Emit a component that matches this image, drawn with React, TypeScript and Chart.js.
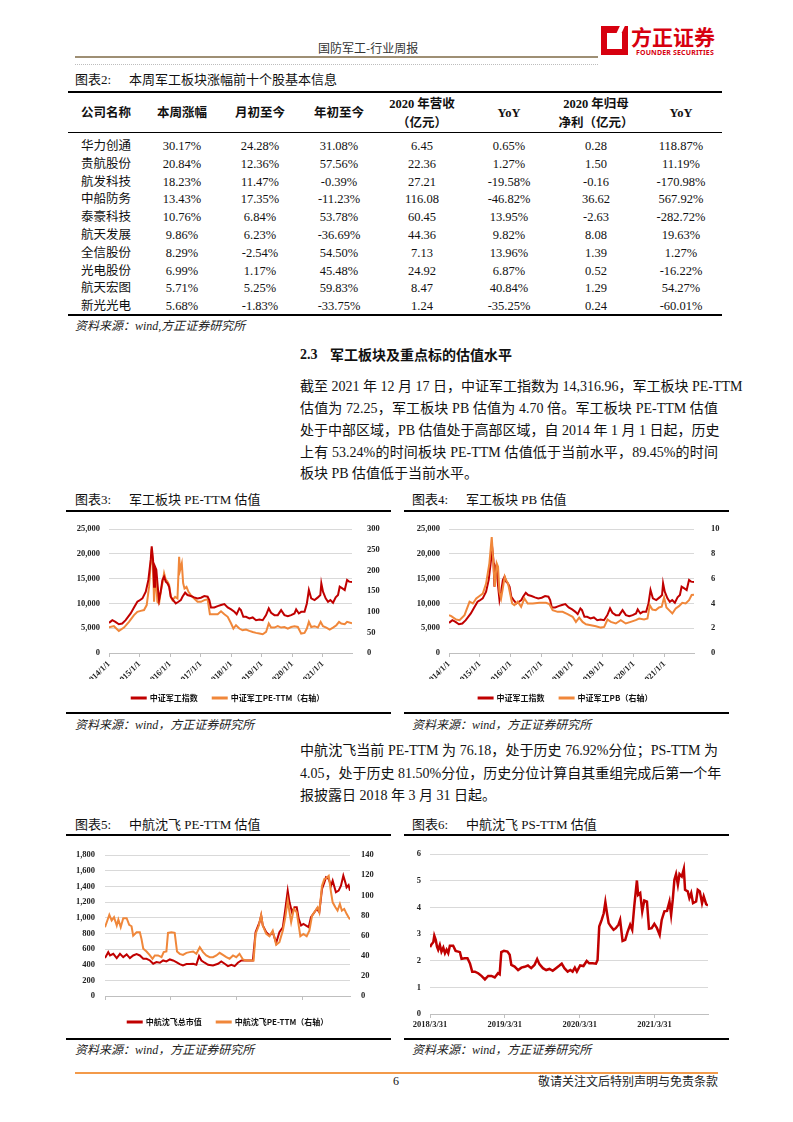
import React, { useEffect, useRef } from 'react';
import { Chart, registerables } from 'chart.js';
Chart.register(...registerables);

const RED = '#C00000';
const ORANGE = '#F0873A';
const GRID = '#D9D9D9';
const AXIS = '#BFBFBF';
const SERIF = "'Liberation Serif', 'Times New Roman', 'Noto Sans CJK SC', serif";
const SANS = "'Noto Sans CJK SC', 'Noto Sans', sans-serif";

// ---------- Table 2 data ----------
const tableHeaders = ['公司名称', '本周涨幅', '月初至今', '年初至今', '2020 年营收\n（亿元）', 'YoY', '2020 年归母\n净利（亿元）', 'YoY'];
const companies = ['华力创通', '贵航股份', '航发科技', '中船防务', '泰豪科技', '航天发展', '全信股份', '光电股份', '航天宏图', '新光光电'];
const weekChange = [30.17, 20.84, 18.23, 13.43, 10.76, 9.86, 8.29, 6.99, 5.71, 5.68];
const monthChange = [24.28, 12.36, 11.47, 17.35, 6.84, 6.23, -2.54, 1.17, 5.25, -1.83];
const ytdChange = [31.08, 57.56, -0.39, -11.23, 53.78, -36.69, 54.5, 45.48, 59.83, -33.75];
const revenue2020 = [6.45, 22.36, 27.21, 116.08, 60.45, 44.36, 7.13, 24.92, 8.47, 1.24];
const revenueYoY = [0.65, 1.27, -19.58, -46.82, 13.95, 9.82, 13.96, 6.87, 40.84, -35.25];
const netProfit2020 = [0.28, 1.5, -0.16, 36.62, -2.63, 8.08, 1.39, 0.52, 1.29, 0.24];
const profitYoY = [118.87, 11.19, -170.98, 567.92, -282.72, 19.63, 1.27, -16.22, 54.27, -60.01];

// ---------- Chart 3 / 4 : 中证军工指数 ----------
const indexDates = ['2014-01-01','2014-02-10','2014-03-19','2014-04-29','2014-06-08','2014-07-19','2014-09-17','2014-10-27','2014-12-06','2014-12-27','2015-02-05','2015-03-17','2015-04-17','2015-05-15','2015-05-27','2015-06-12','2015-06-24','2015-07-05','2015-07-21','2015-08-07','2015-08-23','2015-09-12','2015-10-02','2015-10-22','2015-11-11','2015-12-01','2015-12-21','2016-01-10','2016-02-07','2016-03-10','2016-04-11','2016-05-09','2016-05-29','2016-06-30','2016-07-28','2016-09-06','2016-10-16','2016-11-25','2017-01-05','2017-02-14','2017-03-26','2017-04-15','2017-05-05','2017-06-14','2017-07-24','2017-09-02','2017-10-12','2017-11-21','2018-01-01','2018-02-09','2018-03-08','2018-04-09','2018-04-28','2018-05-27','2018-06-28','2018-08-07','2018-09-16','2018-10-26','2018-12-05','2019-01-14','2019-02-23','2019-03-27','2019-04-24','2019-06-03','2019-07-13','2019-08-22','2019-10-01','2019-11-10','2019-12-20','2020-01-29','2020-02-18','2020-03-21','2020-04-18','2020-05-28','2020-06-25','2020-07-19','2020-08-16','2020-09-25','2020-11-04','2020-12-03','2020-12-15','2021-01-04','2021-02-05','2021-03-05','2021-04-02','2021-05-04','2021-06-05','2021-07-03','2021-07-23','2021-08-24','2021-09-21','2021-10-19','2021-11-12','2021-12-17'];
const indexValues = [6080,6620,6290,5810,5950,6620,7980,9190,10340,10550,11020,12370,14740,18790,21500,18790,13380,17440,16800,13380,10680,12370,14740,15410,14400,14060,13380,11360,10680,10000,10340,10680,11360,12170,11700,11490,11220,11020,11150,11490,11360,10680,9190,9190,9460,9670,9870,9190,8790,8310,7840,8990,8650,7300,7300,6960,7170,6620,6760,6620,7640,8990,8110,7640,7640,8650,7640,7440,7640,7980,8790,7980,8310,8310,10000,12710,11020,10680,11220,11700,14060,12370,11020,10340,10680,10140,11220,11700,13380,13040,12710,14740,14400,14317];

// ---------- Chart 3 : 中证军工 PE-TTM ----------
const peDates = ['2014-01-01','2014-03-01','2014-04-29','2014-06-29','2014-08-28','2014-10-27','2014-12-06','2015-01-15','2015-02-24','2015-03-28','2015-04-25','2015-05-15','2015-05-27','2015-06-12','2015-06-24','2015-07-13','2015-08-03','2015-08-23','2015-09-12','2015-10-02','2015-10-22','2015-11-11','2015-12-01','2015-12-21','2016-01-10','2016-01-30','2016-03-02','2016-03-30','2016-04-19','2016-05-01','2016-05-21','2016-06-06','2016-06-22','2016-07-16','2016-08-09','2016-09-06','2016-10-16','2016-11-25','2017-01-05','2017-02-14','2017-03-26','2017-04-22','2017-06-14','2017-07-24','2017-09-02','2017-10-12','2017-11-21','2018-01-01','2018-01-28','2018-02-28','2018-04-09','2018-05-18','2018-06-28','2018-08-07','2018-09-16','2018-10-26','2018-12-05','2019-01-14','2019-02-23','2019-03-27','2019-04-24','2019-06-03','2019-07-13','2019-08-22','2019-10-01','2019-11-10','2019-12-20','2020-01-29','2020-03-09','2020-04-18','2020-05-28','2020-06-25','2020-07-19','2020-08-16','2020-09-25','2020-11-04','2020-12-07','2021-01-04','2021-02-13','2021-03-25','2021-05-04','2021-06-13','2021-07-15','2021-08-11','2021-09-21','2021-10-19','2021-12-17'];
const peValues = [62,65,53.5,61.6,75.4,91.6,99.8,102,104,116,160,217,252,209,124,193,124,120,148,169,193,178,173,165,136,128,136,132,233,201,217,169,156,160,148,140,132,124,124,128,130,94,94,94,101,94,87.6,71.4,59.2,67.3,59.2,55,56.8,53.5,51,48.7,47,45.4,51,71.4,61.6,61.6,64.9,61.6,63,59.2,63,64.9,63,47,48.7,59.2,75.4,63,64.9,61.6,75.4,64.9,61.6,56.8,61.6,67.3,75.4,71.4,69.8,75.4,72.25];

// ---------- Chart 4 : 中证军工 PB ----------
const pbDates = ['2014-01-01','2014-01-28','2014-03-27','2014-05-06','2014-07-04','2014-09-02','2014-10-11','2014-11-20','2014-12-29','2015-02-06','2015-03-17','2015-04-25','2015-05-23','2015-06-12','2015-06-28','2015-07-21','2015-08-06','2015-08-22','2015-09-11','2015-10-01','2015-10-24','2015-11-09','2015-12-03','2015-12-27','2016-01-20','2016-02-16','2016-03-27','2016-05-06','2016-06-14','2016-07-23','2016-09-21','2016-12-08','2017-02-25','2017-04-05','2017-05-15','2017-07-13','2017-09-10','2017-11-08','2018-01-07','2018-02-15','2018-03-26','2018-05-05','2018-06-14','2018-08-12','2018-10-10','2018-12-08','2019-01-16','2019-02-25','2019-04-05','2019-06-03','2019-08-01','2019-09-29','2019-11-27','2020-01-26','2020-03-06','2020-05-04','2020-06-13','2020-07-10','2020-08-10','2020-09-19','2020-10-28','2020-11-29','2020-12-27','2021-01-24','2021-02-24','2021-04-04','2021-05-14','2021-06-22','2021-07-31','2021-09-09','2021-10-19','2021-11-19','2021-12-17'];
const pbValues = [3.05,2.97,2.7,2.65,3.05,4.14,4.0,4.4,4.6,4.8,5.6,7.24,9.35,7.24,5.35,7.24,6.97,4.95,4.4,5.2,6.16,5.9,5.6,4.8,4.0,3.86,4.14,3.73,4.4,4.0,4.0,4.05,4.05,3.95,3.46,3.32,3.32,3.14,2.92,2.51,2.86,2.51,2.32,2.24,2.16,2.05,2.1,2.7,2.51,2.38,2.65,2.38,2.51,2.65,2.78,2.7,2.78,3.86,3.51,3.46,3.68,3.73,4.49,3.68,3.46,3.19,3.59,3.78,4.05,4.0,4.27,4.68,4.7];

const yearTickLabels = ['2014/1/1', '2015/1/1', '2016/1/1', '2017/1/1', '2018/1/1', '2019/1/1', '2020/1/1', '2021/1/1'];

// ---------- Chart 5 : 中航沈飞总市值 / PE-TTM ----------
const capDates = ['2018-03-31','2018-04-18','2018-04-28','2018-05-16','2018-06-04','2018-06-22','2018-07-10','2018-07-29','2018-08-16','2018-09-03','2018-09-22','2018-10-10','2018-10-29','2018-11-16','2018-12-05','2018-12-23','2019-01-10','2019-01-29','2019-02-16','2019-03-06','2019-03-25','2019-04-12','2019-04-30','2019-05-19','2019-06-06','2019-06-25','2019-07-13','2019-08-01','2019-08-19','2019-09-03','2019-09-16','2019-10-04','2019-10-23','2019-11-19','2019-12-17','2020-01-04','2020-01-23','2020-02-10','2020-02-29','2020-03-18','2020-04-05','2020-04-24','2020-05-21','2020-06-27','2020-07-12','2020-08-03','2020-08-12','2020-08-21','2020-09-09','2020-09-27','2020-10-15','2020-11-03','2020-11-21','2020-12-10','2020-12-24','2021-01-06','2021-01-16','2021-01-30','2021-02-12','2021-02-25','2021-03-08','2021-03-21','2021-04-03','2021-04-18','2021-05-02','2021-05-15','2021-06-03','2021-06-16','2021-06-30','2021-07-15','2021-07-28','2021-08-06','2021-08-21','2021-09-03','2021-09-12','2021-09-30','2021-10-15','2021-10-28','2021-11-10','2021-11-21','2021-11-28','2021-12-09','2021-12-17'];
const capValues = [484,560,518,539,484,539,497,531,484,518,535,518,476,476,454,412,433,425,454,442,467,454,433,408,391,408,408,412,399,510,454,425,399,391,412,442,412,382,399,382,425,454,454,454,815,943,1028,900,815,773,815,679,815,879,1112,1346,1197,1070,1134,1134,985,900,921,900,879,1006,1070,1112,1070,1367,1452,1516,1495,1410,1473,1325,1346,1410,1537,1452,1388,1418,1346];
const sfPeDates = ['2018-03-31','2018-04-13','2018-04-24','2018-05-07','2018-05-20','2018-06-04','2018-06-13','2018-06-26','2018-07-10','2018-07-29','2018-08-12','2018-08-25','2018-09-03','2018-09-22','2018-10-10','2018-10-19','2018-10-29','2018-11-16','2018-12-05','2018-12-19','2019-01-01','2019-01-19','2019-02-07','2019-02-19','2019-03-06','2019-03-15','2019-04-03','2019-04-21','2019-05-04','2019-05-19','2019-06-06','2019-06-25','2019-07-13','2019-08-01','2019-08-19','2019-09-07','2019-09-25','2019-10-13','2019-11-01','2019-11-19','2019-12-08','2019-12-26','2020-01-13','2020-02-01','2020-02-19','2020-03-09','2020-03-27','2020-04-14','2020-05-03','2020-05-21','2020-07-01','2020-07-12','2020-07-30','2020-08-12','2020-08-21','2020-09-09','2020-09-27','2020-10-15','2020-11-03','2020-11-21','2020-12-10','2020-12-24','2021-01-06','2021-01-16','2021-01-25','2021-02-09','2021-02-25','2021-03-08','2021-03-17','2021-04-03','2021-04-21','2021-05-06','2021-05-21','2021-06-09','2021-06-21','2021-06-30','2021-07-15','2021-07-28','2021-08-06','2021-08-21','2021-09-03','2021-09-12','2021-09-27','2021-10-09','2021-10-22','2021-11-02','2021-11-15','2021-11-28','2021-12-09','2021-12-17'];
const sfPeValues = [68.4,75,80.6,75,78.3,70,76,68.4,77.3,77.3,70.7,69.3,60,63.4,63.4,56.8,46.9,44.2,40.3,37,40.3,40.3,38.6,43.6,44.2,62.7,63.4,62.7,44.2,41.9,40.9,42.9,43.6,44.2,41.9,48.5,43.6,40.3,38.6,38.6,40.3,42.9,40.9,38.6,37,40.3,38.6,41.9,36.3,35.3,35.3,61.7,70,80.6,70,61.7,59.4,65,50.9,53.5,65,78.3,94.8,83.2,73.3,86.5,83.2,70,59.4,61.7,59.4,65,79.9,84.9,88.2,83.2,109.6,116.2,116.9,119.5,103,93.1,88.2,84.9,91.5,84.9,86.5,81.6,78.3,76.18];

// ---------- Chart 6 : 中航沈飞 PS-TTM ----------
const psDates = ['2018-03-31','2018-04-08','2018-04-16','2018-04-21','2018-04-28','2018-05-04','2018-05-10','2018-05-18','2018-05-26','2018-06-04','2018-06-12','2018-06-20','2018-06-28','2018-07-06','2018-07-22','2018-08-03','2018-08-16','2018-08-24','2018-09-01','2018-09-17','2018-09-30','2018-10-12','2018-10-23','2018-11-05','2018-11-21','2018-12-07','2018-12-24','2019-01-09','2019-01-25','2019-02-10','2019-02-26','2019-03-06','2019-03-14','2019-03-27','2019-04-13','2019-04-24','2019-05-02','2019-05-18','2019-06-04','2019-06-20','2019-07-06','2019-07-22','2019-08-07','2019-08-23','2019-09-05','2019-09-16','2019-10-03','2019-10-19','2019-11-04','2019-11-20','2019-12-06','2019-12-23','2020-01-03','2020-01-16','2020-02-01','2020-02-14','2020-02-25','2020-03-07','2020-03-17','2020-04-02','2020-04-18','2020-05-04','2020-05-16','2020-06-02','2020-06-18','2020-06-26','2020-07-04','2020-07-16','2020-07-26','2020-08-03','2020-08-11','2020-08-19','2020-08-30','2020-09-12','2020-09-23','2020-10-06','2020-10-14','2020-10-26','2020-11-08','2020-11-19','2020-12-02','2020-12-12','2020-12-22','2021-01-04','2021-01-10','2021-01-20','2021-01-30','2021-02-09','2021-02-22','2021-03-04','2021-03-17','2021-03-30','2021-04-12','2021-04-25','2021-05-05','2021-05-18','2021-05-31','2021-06-12','2021-06-20','2021-06-28','2021-07-06','2021-07-14','2021-07-23','2021-07-31','2021-08-11','2021-08-21','2021-08-27','2021-09-09','2021-09-17','2021-09-26','2021-10-05','2021-10-20','2021-10-28','2021-11-07','2021-11-18','2021-11-26','2021-12-08','2021-12-17'];
const psValues = [2.51,2.62,2.69,2.94,2.78,2.53,2.41,2.59,2.34,2.49,2.28,2.41,2.28,2.56,2.56,2.37,2.34,2.32,2.07,2.09,2.09,1.9,1.59,1.59,1.53,1.43,1.3,1.43,1.43,1.37,1.53,1.49,2.32,2.37,2.34,2.22,1.84,1.78,1.65,1.74,1.77,1.82,1.72,1.84,2.06,1.87,1.72,1.65,1.69,1.62,1.72,1.82,1.89,1.72,1.59,1.65,1.59,1.74,1.59,1.82,1.8,1.99,1.9,1.9,1.89,2.03,3.28,3.53,3.78,4.2,3.78,3.41,3.28,3.16,3.22,3.35,3.53,2.74,2.78,3.07,3.35,3.16,4.04,5.01,4.47,4.54,3.85,4.26,4.22,3.2,3.22,3.38,3.22,2.97,3.53,3.85,3.87,4.22,3.72,4.29,5.04,5.25,4.85,5.25,5.16,5.45,4.66,4.6,4.35,4.54,4.16,4.22,4.66,4.6,4.16,4.41,4.12,4.07];

const sfTickLabels = ['2018/3/31', '2019/3/31', '2020/3/31', '2021/3/31'];

// ---------- helpers ----------
const toMs = (s: string) => {
  const [y, m, d] = s.split(/[-/]/).map(Number);
  return Date.UTC(y, m - 1, d);
};
const series = (dates: string[], vals: number[]) => dates.map((d, i) => ({ x: toMs(d), y: vals[i] }));
const pct = (v: number) => v.toFixed(2) + '%';
const comma = (v: number) => Number(v).toLocaleString('en-US');

const tickFont = { family: "'Liberation Serif', serif", size: 8.5, weight: 'bold' as const };
const legendFont = { family: SANS, size: 8, weight: 'bold' as const };

function xAxis(labels: string[], min: string, max: string, rotate: boolean, height: number) {
  const vals = labels.map(toMs);
  return {
    type: 'linear',
    min: toMs(min),
    max: toMs(max),
    afterBuildTicks: (axis: any) => {
      axis.ticks = vals.map((v) => ({ value: v }));
    },
    afterFit: (s: any) => {
      s.height = height;
    },
    ticks: {
      autoSkip: false,
      maxRotation: rotate ? 45 : 0,
      minRotation: rotate ? 45 : 0,
      font: tickFont,
      color: '#222',
      padding: 2,
      callback: (_v: any, i: number) => labels[i],
    },
    grid: { drawOnChartArea: false, drawTicks: true, tickLength: 4, color: AXIS },
    border: { color: AXIS },
  };
}

function yAxis(pos: 'left' | 'right', max: number, step: number, width: number, pad: number, grid: boolean, fmt?: (v: number) => string) {
  return {
    position: pos,
    min: 0,
    max,
    afterFit: (s: any) => {
      s.width = width;
    },
    ticks: { stepSize: step, font: tickFont, color: '#222', padding: pad, callback: (v: any) => (fmt ? fmt(v) : String(v)) },
    grid: grid ? { color: GRID, drawTicks: false } : { display: false, drawOnChartArea: false },
    border: { display: false },
  };
}

const line = (label: string, data: any[], color: string, axis: string, order: number, width = 2) => ({
  label,
  data,
  borderColor: color,
  backgroundColor: color,
  borderWidth: width,
  pointRadius: 0,
  pointHoverRadius: 0,
  tension: 0,
  yAxisID: axis,
  order,
});

const legend = (show: boolean) => ({
  display: show,
  position: 'bottom' as const,
  labels: {
    boxWidth: 14,
    boxHeight: 1,
    font: legendFont,
    color: '#111',
    padding: 15,
    sort: (a: any, b: any) => a.datasetIndex - b.datasetIndex,
  },
});

function baseOptions(scales: any, showLegend: boolean, padding: any) {
  return {
    responsive: false,
    maintainAspectRatio: false,
    animation: false,
    layout: { padding },
    plugins: { legend: legend(showLegend), tooltip: { enabled: false } },
    scales,
  };
}

const chart3 = () => ({
  type: 'line',
  data: {
    datasets: [
      line('中证军工指数', series(indexDates, indexValues), RED, 'y', 0),
      line('中证军工PE-TTM（右轴）', series(peDates, peValues), ORANGE, 'y1', 1),
    ],
  },
  options: baseOptions(
    {
      x: xAxis(yearTickLabels, indexDates[0], indexDates[indexDates.length - 1], true, 26),
      y: yAxis('left', 25000, 5000, 45, 9, true, comma),
      y1: yAxis('right', 300, 50, 40, 7, false),
    },
    true,
    { top: 14, left: 0, right: 0, bottom: 0 }
  ),
});

const chart4 = () => ({
  type: 'line',
  data: {
    datasets: [
      line('中证军工指数', series(indexDates, indexValues), RED, 'y', 1),
      line('中证军工PB（右轴）', series(pbDates, pbValues), ORANGE, 'y1', 0),
    ],
  },
  options: baseOptions(
    {
      x: xAxis(yearTickLabels, indexDates[0], indexDates[indexDates.length - 1], true, 26),
      y: yAxis('left', 25000, 5000, 46, 9, true, comma),
      y1: yAxis('right', 10, 2, 34, 9, false),
    },
    true,
    { top: 14, left: 0, right: 0, bottom: 0 }
  ),
});

const chart5 = () => ({
  type: 'line',
  data: {
    datasets: [
      line('中航沈飞总市值', series(capDates, capValues), RED, 'y', 1),
      line('中航沈飞PE-TTM（右轴）', series(sfPeDates, sfPeValues), ORANGE, 'y1', 0),
    ],
  },
  options: baseOptions(
    {
      x: xAxis(sfTickLabels, capDates[0], capDates[capDates.length - 1], false, 7),
      y: yAxis('left', 1800, 200, 41, 10, true, comma),
      y1: yAxis('right', 140, 20, 42, 3, false),
    },
    true,
    { top: 14, left: 0, right: 0, bottom: 0 }
  ),
});

const chart6 = () => ({
  type: 'line',
  data: {
    datasets: [line('中航沈飞PS-TTM', series(psDates, psValues), RED, 'y', 0, 2.5)],
  },
  options: baseOptions(
    {
      x: xAxis(sfTickLabels, psDates[0], psDates[psDates.length - 1], false, 24),
      y: yAxis('left', 6, 1, 27, 9, true),
    },
    false,
    { top: 14, left: 0, right: 20, bottom: 0 }
  ),
});

function ChartCanvas({ left, top, width, height, make }: { left: number; top: number; width: number; height: number; make: () => any }) {
  const ref = useRef<HTMLCanvasElement | null>(null);
  useEffect(() => {
    if (!ref.current) return;
    const c = new Chart(ref.current, make());
    return () => c.destroy();
  }, []);
  return <canvas ref={ref} width={width} height={height} style={{ position: 'absolute', left, top, width, height }} />;
}

function Txt({ x, y, size = 12, children, style = {} }: { x: number; y: number; size?: number; children: any; style?: any }) {
  return (
    <div
      style={{
        position: 'absolute',
        left: x,
        top: y - size * 0.75,
        fontSize: size,
        lineHeight: `${size * 1.5}px`,
        whiteSpace: 'pre',
        fontFamily: SERIF,
        color: '#111',
        ...style,
      }}
    >
      {children}
    </div>
  );
}

function Rule({ x, y, w, h = 2, color = '#000', style = {} }: any) {
  return <div style={{ position: 'absolute', left: x, top: y, width: w, height: h, background: color, ...style }} />;
}

function Justified({ x, y, w, size = 14, text, last = false }: { x: number; y: number; w: number; size?: number; text: string; last?: boolean }) {
  return (
    <div
      style={{
        position: 'absolute',
        left: x,
        top: y - size * 0.75,
        width: w,
        fontSize: size,
        lineHeight: `${size * 1.5}px`,
        fontFamily: SERIF,
        color: '#111',
        textAlign: 'justify',
        textAlignLast: last ? 'left' : 'justify',
        whiteSpace: 'nowrap',
      }}
    >
      {text}
    </div>
  );
}

function FigTitle({ x, y, num, title }: { x: number; y: number; num: string; title: string }) {
  return (
    <>
      <Txt x={x} y={y} size={13}>{`图表${num}:`}</Txt>
      <Txt x={x + 54} y={y} size={13}>{title}</Txt>
    </>
  );
}

const colCenters = [106, 182, 260, 339, 422, 509, 596, 681];
const rowY = (i: number) => 146 + i * 17.8;

export default function App() {
  const rows = companies.map((c, i) => [
    c,
    pct(weekChange[i]),
    pct(monthChange[i]),
    pct(ytdChange[i]),
    revenue2020[i].toFixed(2),
    pct(revenueYoY[i]),
    netProfit2020[i].toFixed(2),
    pct(profitYoY[i]),
  ]);

  const para1 = [
    '截至 2021 年 12 月 17 日，中证军工指数为 14,316.96，军工板块 PE-TTM',
    '估值为 72.25，军工板块 PB 估值为 4.70 倍。军工板块 PE-TTM 估值',
    '处于中部区域，PB 估值处于高部区域，自 2014 年 1 月 1 日起，历史',
    '上有 53.24%的时间板块 PE-TTM 估值低于当前水平，89.45%的时间',
    '板块 PB 估值低于当前水平。',
  ];
  const para1Y = [386, 408, 430, 452, 473];
  const para2 = [
    '中航沈飞当前 PE-TTM 为 76.18，处于历史 76.92%分位；PS-TTM 为',
    '4.05，处于历史 81.50%分位，历史分位计算自其重组完成后第一个年',
    '报披露日 2018 年 3 月 31 日起。',
  ];
  const para2Y = [750, 773, 795];

  const srcStyle = { fontStyle: 'italic', color: '#222' };

  return (
    <div style={{ position: 'absolute', left: 0, top: 0, width: 793, height: 1122, background: '#fff', overflow: 'hidden' }}>
      {/* header */}
      <Txt x={318} y={48} size={12} style={{ fontFamily: SANS, color: '#333' }}>国防军工-行业周报</Txt>
      <Rule x={75} y={56} w={523} h={2} color="#9E8F74" />
      <div style={{ position: 'absolute', left: 75, top: 64, width: 523, borderTop: '1px dotted #bdbdbd' }} />
      {/* logo */}
      <div style={{ position: 'absolute', left: 601, top: 26, width: 27, height: 29, background: '#D7000F' }} />
      <div style={{ position: 'absolute', left: 607, top: 33, width: 15, height: 16, background: '#fff' }} />
      <div style={{ position: 'absolute', left: 618, top: 24, width: 5, height: 12, background: '#fff', transform: 'skewX(-25deg)' }} />
      <Txt x={631} y={37} size={21} style={{ fontFamily: SANS, fontWeight: 700, color: '#D7000F', letterSpacing: 0 }}>方正证券</Txt>
      <Txt x={636} y={53} size={7} style={{ fontFamily: "'Noto Sans', sans-serif", fontWeight: 700, color: '#D7000F', letterSpacing: 0.15 }}>FOUNDER SECURITIES</Txt>

      {/* table 2 */}
      <FigTitle x={75} y={80} num="2" title="本周军工板块涨幅前十个股基本信息" />
      <Rule x={68} y={91} w={654} h={2} />
      {tableHeaders.map((h, j) => {
        const parts = h.split('\n');
        return parts.map((p, k) => (
          <div
            key={`h${j}-${k}`}
            style={{
              position: 'absolute',
              left: colCenters[j] - 50,
              width: 100,
              top: (parts.length === 1 ? 113 : k === 0 ? 104 : 123) - 9,
              lineHeight: '18px',
              fontSize: 12.5,
              textAlign: 'center',
              fontWeight: 700,
              fontFamily: SERIF,
              whiteSpace: 'pre',
              color: '#111',
            }}
          >
            {p}
          </div>
        ));
      })}
      <Rule x={68} y={132} w={654} h={1} />
      {rows.map((r, i) =>
        r.map((cell, j) => (
          <div
            key={`c${i}-${j}`}
            style={{
              position: 'absolute',
              left: colCenters[j] - 50,
              width: 100,
              top: rowY(i) - 9,
              lineHeight: '18px',
              fontSize: 12.5,
              textAlign: 'center',
              fontFamily: SERIF,
              color: '#111',
            }}
          >
            {cell}
          </div>
        ))
      )}
      <Rule x={68} y={314} w={654} h={2} />
      <Txt x={75} y={326} size={12} style={srcStyle}>资料来源：wind,方正证券研究所</Txt>

      {/* section text */}
      <Txt x={300} y={354} size={14} style={{ fontWeight: 700 }}>2.3</Txt>
      <Txt x={330} y={354} size={14} style={{ fontWeight: 700, fontFamily: SANS }}>军工板块及重点标的估值水平</Txt>
      {para1.map((t, i) => (
        <Justified key={`p1${i}`} x={300} y={para1Y[i]} w={418} text={t} last={i === para1.length - 1} />
      ))}

      {/* chart 3 */}
      <FigTitle x={75} y={500} num="3" title="军工板块 PE-TTM 估值" />
      <Rule x={66} y={510} w={325} h={2} />
      <ChartCanvas left={64} top={515} width={328} height={197} make={chart3} />
      <Rule x={66} y={712} w={325} h={2} />
      <Txt x={75} y={725} size={12} style={srcStyle}>资料来源：wind，方正证券研究所</Txt>

      {/* chart 4 */}
      <FigTitle x={412} y={500} num="4" title="军工板块 PB 估值" />
      <Rule x={404} y={510} w={325} h={2} />
      <ChartCanvas left={403} top={515} width={325} height={197} make={chart4} />
      <Rule x={404} y={712} w={325} h={2} />
      <Txt x={412} y={725} size={12} style={srcStyle}>资料来源：wind，方正证券研究所</Txt>

      {para2.map((t, i) => (
        <Justified key={`p2${i}`} x={300} y={para2Y[i]} w={418} text={t} last={i === para2.length - 1} />
      ))}

      {/* chart 5 */}
      <FigTitle x={75} y={825} num="5" title="中航沈飞 PE-TTM 估值" />
      <Rule x={66} y={834} w={325} h={2} />
      <ChartCanvas left={64} top={840} width={328} height={196} make={chart5} />
      <Rule x={66} y={1038} w={325} h={2} />
      <Txt x={75} y={1050} size={12} style={srcStyle}>资料来源：wind，方正证券研究所</Txt>

      {/* chart 6 */}
      <FigTitle x={412} y={825} num="6" title="中航沈飞 PS-TTM 估值" />
      <Rule x={404} y={834} w={325} h={2} />
      <ChartCanvas left={403} top={840} width={325} height={198} make={chart6} />
      <Rule x={404} y={1038} w={325} h={2} />
      <Txt x={412} y={1050} size={12} style={srcStyle}>资料来源：wind，方正证券研究所</Txt>

      {/* footer */}
      <Rule x={75} y={1072} w={643} h={1.5} color="#F39A4A" />
      <Txt x={393} y={1081} size={12}>6</Txt>
      <div style={{ position: 'absolute', right: 793 - 718, top: 1072, lineHeight: '18px', fontSize: 12, fontFamily: SANS, color: '#222' }}>
        敬请关注文后特别声明与免责条款
      </div>
    </div>
  );
}
